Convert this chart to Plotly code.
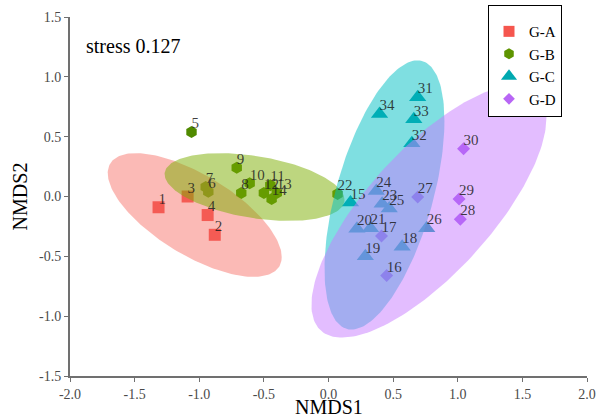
import numpy as np
import plotly.graph_objects as go

# ---- data ----
groups = ["G-A", "G-B", "G-C", "G-D"]

a_ids = ["1", "2", "3", "4"]
a_x = [-1.315, -0.88, -1.09, -0.935]
a_y = [-0.09, -0.32, 0.0, -0.155]

b_ids = ["5", "6", "7", "8", "9", "10", "11", "12", "13", "14", "22"]
b_x = [-1.06, -0.93, -0.95, -0.675, -0.71, -0.61, -0.45, -0.50, -0.40, -0.44, 0.07]
b_y = [0.54, 0.04, 0.08, 0.03, 0.24, 0.11, 0.095, 0.03, 0.03, -0.02, 0.02]

c_ids = ["15", "18", "19", "20", "21", "23", "24", "25", "26", "31", "32", "33", "34"]
c_x = [0.17, 0.57, 0.285, 0.22, 0.325, 0.415, 0.37, 0.47, 0.76, 0.69, 0.645, 0.66, 0.395]
c_y = [-0.05, -0.42, -0.50, -0.27, -0.265, -0.06, 0.045, -0.10, -0.265, 0.83, 0.445, 0.645, 0.69]

d_ids = ["16", "17", "27", "28", "29", "30"]
d_x = [0.45, 0.41, 0.69, 1.02, 1.01, 1.045]
d_y = [-0.66, -0.33, -0.005, -0.19, -0.02, 0.40]

# ellipse parameters per group: centre, half-width, half-height, correlation
ell_cx = [-1.035, -0.572, 0.433, 0.777]
ell_cy = [-0.155, 0.079, 0.0125, -0.125]
ell_sx = [0.673, 0.696, 0.464, 0.909]
ell_sy = [0.517, 0.283, 1.125, 1.054]
ell_rho = [-0.677, -0.38, 0.55, 0.74]

stress_text = "stress 0.127"
x_title = "NMDS1"
y_title = "NMDS2"
x_ticks = [-2.0, -1.5, -1.0, -0.5, 0.0, 0.5, 1.0, 1.5, 2.0]
y_ticks = [-1.5, -1.0, -0.5, 0.0, 0.5, 1.0, 1.5]

# ---- styles ----
marker_colors = ["#F0403B", "#508A00", "#009CA8", "#A652EE"]
legend_colors = ["#F5564E", "#5E9400", "#00A9B0", "#B866F5"]
fill_colors = ["rgba(248,118,109,0.5)", "rgba(124,174,0,0.5)",
               "rgba(0,191,196,0.5)", "rgba(199,124,255,0.5)"]
symbols = ["square", "hexagon", "triangle-up", "diamond"]
sizes = [12, 12, 15, 10]
legend_sizes = [11, 11, 14, 9]
serif = "Liberation Serif, Times New Roman, serif"

fig = go.Figure()

all_x = [a_x, b_x, c_x, d_x]
all_y = [a_y, b_y, c_y, d_y]
all_ids = [a_ids, b_ids, c_ids, d_ids]

# legend entries
for i in range(4):
    fig.add_trace(go.Scatter(
        x=[None], y=[None], mode="markers", name=groups[i],
        marker=dict(symbol=symbols[i], size=legend_sizes[i], color=legend_colors[i], line=dict(width=0))))

# point markers (below the ellipses)
for i in range(4):
    fig.add_trace(go.Scatter(
        x=all_x[i], y=all_y[i], mode="markers", name=groups[i], showlegend=False,
        marker=dict(symbol=symbols[i], size=sizes[i], color=marker_colors[i], line=dict(width=0))))

# ellipses
t = np.linspace(0, 2 * np.pi, 200)
for i in range(4):
    ex = ell_cx[i] + ell_sx[i] * np.cos(t)
    ey = ell_cy[i] + ell_sy[i] * (ell_rho[i] * np.cos(t) + np.sqrt(1 - ell_rho[i] ** 2) * np.sin(t))
    fig.add_trace(go.Scatter(
        x=ex, y=ey, mode="lines", fill="toself",
        fillcolor=fill_colors[i], line=dict(width=0),
        hoverinfo="skip", showlegend=False))

# labels on top
for i in range(4):
    fig.add_trace(go.Scatter(
        x=all_x[i], y=all_y[i], mode="text", text=all_ids[i], textposition="top right",
        textfont=dict(family=serif, size=15, color="rgba(30,30,30,0.85)"),
        hoverinfo="skip", showlegend=False))

fig.add_annotation(x=0.028, y=0.918, xref="paper", yref="paper", text=stress_text,
                   showarrow=False, xanchor="left", yanchor="middle",
                   font=dict(family=serif, size=20, color="black"))
fig.add_annotation(x=0.5, y=-(407 - 376) / 359, xref="paper", yref="paper", text=x_title,
                   showarrow=False, xanchor="center", yanchor="middle",
                   font=dict(family=serif, size=20, color="black"))

axis_common = dict(showgrid=False, zeroline=False, showline=True, linecolor="#707070",
                   linewidth=2, ticks="outside", ticklen=4, tickcolor="#707070",
                   tickfont=dict(family=serif, size=14, color="#4a4a4a"),
                   mirror=False, automargin=False)

fig.update_layout(
    width=607, height=419,
    margin=dict(l=70, r=20, t=17, b=43, autoexpand=False),
    paper_bgcolor="white", plot_bgcolor="white",
    xaxis=dict(range=[-2, 2], tickvals=x_ticks, ticktext=[f"{v:.1f}" for v in x_ticks],
               **axis_common),
    yaxis=dict(range=[-1.5, 1.5], tickvals=y_ticks, ticktext=[f"{v:.1f}" for v in y_ticks],
               title=dict(text=y_title, font=dict(family=serif, size=20, color="black"), standoff=6),
               **axis_common),
    legend=dict(x=(488 - 70) / 517, y=(376 - 5) / 359,
                xanchor="left", yanchor="top",
                bgcolor="white", bordercolor="black", borderwidth=1,
                font=dict(family=serif, size=15, color="black"),
                title=dict(text=" ", font=dict(size=7)),
                itemsizing="trace"),
    showlegend=True,
)

fig.write_html("out.html")
